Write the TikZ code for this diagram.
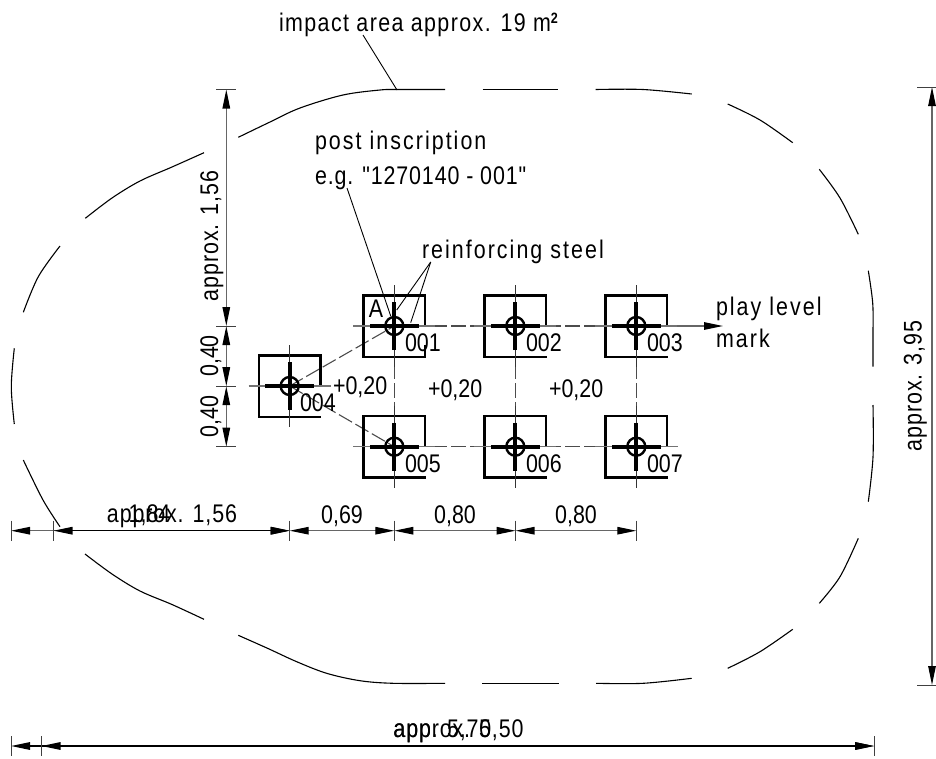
\documentclass[tikz,border=0pt]{standalone}
\usepackage{fontspec}
\setmainfont[FakeStretch=0.84]{Liberation Sans}
\newfontfamily\lsA[FakeStretch=0.84,LetterSpace=8]{Liberation Sans}
\newfontfamily\lsB[FakeStretch=0.84,LetterSpace=5.5]{Liberation Sans}
\newfontfamily\lsC[FakeStretch=0.84,LetterSpace=3.4]{Liberation Sans}
\usetikzlibrary{arrows.meta}
\tikzset{
  lbl/.style={inner sep=0pt,outer sep=0pt,font=\fontsize{25.5}{30}\selectfont,text=black},
  postbox/.style={line width=2.4pt,black,line join=miter},
  bar/.style={line width=3.8pt,black},
  ring/.style={line width=2.4pt,black},
  centre/.style={line width=0.9pt,black!80},
  hcentre/.style={line width=1.1pt,black!55},
  dashline/.style={line width=1.1pt,black!70,dash pattern=on 15pt off 4pt},
  outline/.style={line width=1.1pt,black,line cap=butt},
  leader/.style={line width=0.9pt,black},
  tick/.style={line width=1pt,black!75},
  dim/.style={line width=1.2pt,black!60,arrows={Triangle[length=19pt,width=7.5pt,black]-Triangle[length=19pt,width=7.5pt,black]}},
  dimdark/.style={line width=1.4pt,black,arrows={Triangle[length=19pt,width=7.5pt,black]-Triangle[length=19pt,width=7.5pt,black]}},
}
\begin{document}
\begin{tikzpicture}[x=1pt,y=-1pt]
\useasboundingbox (0,0) rectangle (936,758);
% post centres
\coordinate (p1) at (394.3,326);
\coordinate (p2) at (515.3,326);
\coordinate (p3) at (636.3,326);
\coordinate (p4) at (289.7,386);
\coordinate (p5) at (394.3,446.7);
\coordinate (p6) at (515.3,446.7);
\coordinate (p7) at (636.3,446.7);
\coordinate (playtip) at (723,326);
\coordinate (rowend) at (678,446.7);
% dashed links
\draw[dashline] (p1) -- (p2) -- (p3);
\draw[dashline] (p5) -- (p6) -- (p7);
\draw[dashline] (p1) -- (p5);
\draw[dashline] (p2) -- (p6);
\draw[dashline] (p3) -- (p7);
\draw[dashline] (p4) -- (p1);
\draw[dashline] (p4) -- (p5);
\draw[hcentre] (p7) -- (rowend);
\draw[line width=1.2pt,black!60,arrows={-Triangle[length=19pt,width=7.5pt,black]}] (p3) -- (playtip);
% posts
\foreach \p in {p1,p2,p3,p4,p5,p6,p7}{
  \draw[postbox] ([shift={(30.7,0)}]\p) -- ([shift={(30.7,-30.7)}]\p) -- ([shift={(-30.7,-30.7)}]\p)
     -- ([shift={(-30.7,30.7)}]\p) -- ([shift={(31.7,30.7)}]\p);
  \draw[hcentre] ([shift={(-41,0)}]\p) -- ([shift={(41,0)}]\p);
  \draw[centre] ([shift={(0,-41)}]\p) -- ([shift={(0,41)}]\p);
  \draw[bar] ([shift={(-24.5,0)}]\p) -- ([shift={(24.5,0)}]\p);
  \draw[bar] ([shift={(0,-24)}]\p) -- ([shift={(0,24)}]\p);
  \draw[ring] (\p) circle[radius=9];
}
\draw[postbox] (425,345) -- (425,357);
% outline
\begin{scope}[outline]
\draw plot[smooth,tension=0.55] coordinates {(238.3,137.3)(270,122)(300,108)(343,95)(380,90)(397,89.5)(445,89.5)};
\draw (482.7,89.5) -- (558,89.5);
\draw plot[smooth,tension=0.55] coordinates {(595.7,89.5)(643,89.5)(691.7,94)};
\draw plot[smooth,tension=0.55] coordinates {(727.7,104)(760,120)(792.7,142.7)};
\draw plot[smooth,tension=0.55] coordinates {(819.3,169.3)(840,198)(858.3,234.3)};
\draw plot[smooth,tension=0.55] coordinates {(868.3,270.7)(872.7,303)(873,335)(873,366.7)};
\draw plot[smooth,tension=0.55] coordinates {(873,405)(873,457)(868.3,501.7)};
\draw plot[smooth,tension=0.55] coordinates {(858.3,538.3)(840,576.7)(819.3,603.3)};
\draw plot[smooth,tension=0.55] coordinates {(792.7,629.3)(760,651.7)(727.7,668.3)};
\draw plot[smooth,tension=0.55] coordinates {(691.7,678.3)(643,683.3)(596,683.3)};
\draw (558.7,683.3) -- (482.3,683.3);
\draw plot[smooth,tension=0.55] coordinates {(445,683.3)(393.3,683.3)(360,680.7)(326.7,673.3)(296.7,661.7)(268,648.5)(238.3,635.3)};
\draw plot[smooth,tension=0.55] coordinates {(204,619.3)(172,604.5)(140,591)(112,574)(85,554)};
\draw plot[smooth,tension=0.55] coordinates {(60,526.7)(43,500)(23.3,460)};
\draw plot[smooth,tension=0.55] coordinates {(14.3,424)(11.3,386.7)(14.3,348.3)};
\draw plot[smooth,tension=0.55] coordinates {(23.3,312.3)(38.3,276.7)(60,246)};
\draw plot[smooth,tension=0.55] coordinates {(85.3,218.3)(112,198)(140,181)(172,167)(204,152.7)};
\end{scope}
% texts
\node[lbl,anchor=base west] (impact) at (279,31) {\lsB impact area approx. 19 m\raisebox{8pt}{\fontsize{15}{15}\selectfont\bfseries 2}};
\node[lbl,anchor=base west] (post1) at (315,149) {\lsA post inscription};
\node[lbl,anchor=base west] (post2) at (315,184) {\lsC e.g. "1270140 - 001"};
\node[lbl,anchor=base west] (steel) at (422,258) {\lsA reinforcing steel};
\node[lbl,anchor=base west] (play) at (716,315) {\lsA play level};
\node[lbl,anchor=base west] (mark) at (716,347) {\lsA mark};
\node[lbl,anchor=base] (A) at (376,317) {A};
\node[lbl,anchor=base west] (n1) at (405,351) {001};
\node[lbl,anchor=base west] (n2) at (526,351) {002};
\node[lbl,anchor=base west] (n3) at (647,351) {003};
\node[lbl,anchor=base west] (n4) at (300,411) {004};
\node[lbl,anchor=base west] (n5) at (405,472) {005};
\node[lbl,anchor=base west] (n6) at (526,472) {006};
\node[lbl,anchor=base west] (n7) at (647,472) {007};
\node[lbl,anchor=base west] (h1) at (333,394) {+0,20};
\node[lbl,anchor=base west] (h2) at (428,397) {+0,20};
\node[lbl,anchor=base west] (h3) at (549,397) {+0,20};
% leaders
\coordinate (impfoot) at (397,90);
\coordinate (impstart) at (363,35);
\coordinate (poststart) at (347,188);
\coordinate (postfoot) at (390.7,316);
\coordinate (steelstart) at (430.7,262);
\coordinate (steelfoot1) at (396.7,310);
\coordinate (steelfoot2) at (410.7,322.7);
\draw[leader] (impstart) -- (impfoot);
\draw[leader] (poststart) -- (postfoot);
\draw[leader] (steelstart) -- (steelfoot1);
\draw[leader] (steelstart) -- (steelfoot2);
% left vertical dimensions
\coordinate (vt) at (226.3,89.5);
\coordinate (v1) at (226.3,326);
\coordinate (v2) at (226.3,386.2);
\coordinate (v3) at (226.3,446.7);
\draw[dim] (vt) -- (v1);
\draw[dim] (v1) -- (v2);
\draw[dim] (v2) -- (v3);
\foreach \c in {vt,v1,v2,v3}{\draw[tick] ([shift={(-10,0)}]\c) -- ([shift={(10,0)}]\c);}
\node[lbl,rotate=90,anchor=base] (d156v) at (218,236) {\lsC approx. 1,56};
\node[lbl,rotate=90,anchor=base] (d040a) at (218,356) {0,40};
\node[lbl,rotate=90,anchor=base] (d040b) at (218,416.5) {0,40};
% right vertical dimension
\coordinate (rt) at (932,87);
\coordinate (rb) at (932,685);
\draw[dim] (rt) -- (rb);
\draw[tick] ([shift={(-15,0)}]rt) -- ([shift={(4,0)}]rt);
\draw[tick] ([shift={(-15,0)}]rb) -- ([shift={(4,0)}]rb);
\node[lbl,rotate=90,anchor=base] (d395) at (921.5,386) {\lsC approx. 3,95};
% horizontal dimensions
\coordinate (b0) at (11,530.7);
\coordinate (b1) at (53.5,530.7);
\coordinate (b2) at (289.7,530.7);
\coordinate (b3) at (394.3,530.7);
\coordinate (b4) at (515.5,530.7);
\coordinate (b5) at (636.3,530.7);
\draw[dim] (b0) -- (b2);
\draw[dimdark] (b1) -- (b2);
\draw[dim] (b2) -- (b3);
\draw[dim] (b3) -- (b4);
\draw[dim] (b4) -- (b5);
\foreach \c in {b0,b1,b2,b3,b4,b5}{\draw[tick] ([shift={(0,-10)}]\c) -- ([shift={(0,10)}]\c);}
\node[lbl,anchor=base] (d184) at (149.5,522) {1,84};
\node[lbl,anchor=base] (d156h) at (172,522) {\lsC approx. 1,56};
\node[lbl,anchor=base] (d069) at (342,523) {0,69};
\node[lbl,anchor=base] (d080a) at (455,523) {0,80};
\node[lbl,anchor=base] (d080b) at (576,523) {0,80};
% bottom dimension
\coordinate (c0) at (11,746);
\coordinate (c1) at (41.5,746);
\coordinate (c2) at (874,746);
\draw[dimdark] (c0) -- (c2);
\draw[dimdark] (c1) -- (c2);
\foreach \c in {c0,c1,c2}{\draw[tick] ([shift={(0,-10)}]\c) -- ([shift={(0,10)}]\c);}
\node[lbl,anchor=base] (d570) at (442.5,737) {\lsC app. 5,70};
\node[lbl,anchor=base] (d550) at (458.5,737) {\lsC approx. 5,50};
\end{tikzpicture}
\end{document}
